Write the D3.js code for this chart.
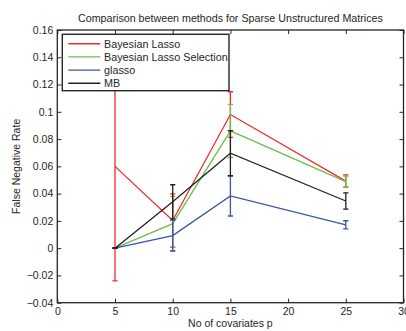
<!DOCTYPE html>
<html>
<head>
<meta charset="utf-8">
<script src="https://cdn.jsdelivr.net/npm/d3@7"></script>
<style>
  html, body { margin: 0; padding: 0; background: #fff; }
  svg { display: block; font-family: "Liberation Sans", Arial, sans-serif; }
</style>
</head>
<body>
<svg id="chart" width="406" height="331"></svg>
<script>
// Number of covariates p (x positions)
const pValues = [5, 10, 15, 25];

// Mean false negative rate and error-bar half-widths per method
const bayesLasso       = [0.060, 0.0203, 0.098, 0.0492];
const bayesLassoErr    = [0.084, 0.0195, 0.0167, 0.0045];
const bayesLassoSel    = [0, 0.018, 0.086, 0.0488];
const bayesLassoSelErr = [0, 0.020, 0.0195, 0.004];
const glasso           = [0, 0.0092, 0.0383, 0.0171];
const glassoErr        = [0, 0.0113, 0.0147, 0.003];
const mb               = [0, 0.034, 0.0696, 0.0346];
const mbErr            = [0, 0.0125, 0.0165, 0.006];

const seriesNames = ["Bayesian Lasso", "Bayesian Lasso Selection", "glasso", "MB"];
const seriesColors = ["#ee2a2f", "#6cbf4a", "#3b55a5", "#231f20"];

const xTicks = [0, 5, 10, 15, 20, 25, 30];
const yTicks = [-0.04, -0.02, 0, 0.02, 0.04, 0.06, 0.08, 0.1, 0.12, 0.14, 0.16];

const titleText = "Comparison between methods for Sparse Unstructured Matrices";
const xLabel = "No of covariates p";
const yLabel = "False Negative Rate";

const series = [
  { name: seriesNames[0], color: seriesColors[0], values: bayesLasso, err: bayesLassoErr },
  { name: seriesNames[1], color: seriesColors[1], values: bayesLassoSel, err: bayesLassoSelErr },
  { name: seriesNames[2], color: seriesColors[2], values: glasso, err: glassoErr },
  { name: seriesNames[3], color: seriesColors[3], values: mb, err: mbErr }
];

const svg = d3.select("#chart");
const plot = { left: 57.3, right: 403.5, top: 30, bottom: 302.7 };

const x = d3.scaleLinear().domain([0, 30]).range([plot.left, plot.right]);
const y = d3.scaleLinear().domain([-0.04, 0.16]).range([plot.bottom, plot.top]);

const textColor = "#262626";
const axisColor = "#262626";

const fmtY = d => {
  if (Math.abs(d) < 1e-12) return "0";
  const s = String(+Math.abs(d).toFixed(2));
  return (d < 0 ? "\u2212" : "") + s;
};

// Clip region for data marks
svg.append("defs").append("clipPath").attr("id", "plotClip")
  .append("rect")
  .attr("x", plot.left).attr("y", plot.top)
  .attr("width", plot.right - plot.left).attr("height", plot.bottom - plot.top);

// Axes: bottom/left with labels, top/right ticks only (ticks point inward)
const tickLen = 4;
const axisBottom = d3.axisBottom(x).tickValues(xTicks).tickSize(-tickLen).tickPadding(5).tickFormat(d3.format("d"));
const axisTop = d3.axisTop(x).tickValues(xTicks).tickSize(-tickLen).tickFormat("");
const axisLeft = d3.axisLeft(y).tickValues(yTicks).tickSize(-tickLen).tickPadding(4).tickFormat(fmtY);
const axisRight = d3.axisRight(y).tickValues(yTicks).tickSize(-tickLen).tickFormat("");

function styleAxis(g) {
  g.select(".domain").remove();
  g.selectAll(".tick line").attr("stroke", axisColor).attr("stroke-width", 1);
  g.selectAll(".tick text").attr("fill", textColor).style("font-size", "10.5px")
    .style("font-family", "'Liberation Sans', Arial, sans-serif");
}

svg.append("g").attr("transform", `translate(0,${plot.bottom})`).call(axisBottom).call(styleAxis);
svg.append("g").attr("transform", `translate(0,${plot.top})`).call(axisTop).call(styleAxis);
svg.append("g").attr("transform", `translate(${plot.left},0)`).call(axisLeft).call(styleAxis);
svg.append("g").attr("transform", `translate(${plot.right},0)`).call(axisRight).call(styleAxis);

// Data series with error bars
const marks = svg.append("g").attr("clip-path", "url(#plotClip)");
const line = d3.line().x(d => x(d.p)).y(d => y(d.v));
const capHalf = 2.6;

series.forEach(s => {
  const pts = pValues.map((p, i) => ({ p, v: s.values[i], e: s.err[i] }));
  const g = marks.append("g");
  g.append("path")
    .datum(pts)
    .attr("d", line)
    .attr("fill", "none")
    .attr("stroke", s.color)
    .attr("stroke-width", 1.3);
  pts.forEach(d => {
    const x0 = x(d.p), yLo = y(d.v - d.e), yHi = y(d.v + d.e);
    g.append("line").attr("x1", x0).attr("x2", x0).attr("y1", yLo).attr("y2", yHi)
      .attr("stroke", s.color).attr("stroke-width", 1.3);
    [yLo, yHi].forEach(yy => {
      g.append("line").attr("x1", x0 - capHalf).attr("x2", x0 + capHalf)
        .attr("y1", yy).attr("y2", yy)
        .attr("stroke", s.color).attr("stroke-width", 1.3);
    });
  });
});

// Plot frame
svg.append("rect")
  .attr("x", plot.left).attr("y", plot.top)
  .attr("width", plot.right - plot.left).attr("height", plot.bottom - plot.top)
  .attr("fill", "none").attr("stroke", axisColor).attr("stroke-width", 1.3);

// Title and axis labels
svg.append("text")
  .attr("x", x(15)).attr("y", 22)
  .attr("text-anchor", "middle")
  .attr("fill", textColor)
  .style("font-size", "10.7px")
  .text(titleText);

svg.append("text")
  .attr("x", x(15)).attr("y", 326.5)
  .attr("text-anchor", "middle")
  .attr("fill", textColor)
  .style("font-size", "10.5px")
  .text(xLabel);

svg.append("text")
  .attr("transform", `translate(20,${(plot.top + plot.bottom) / 2}) rotate(-90)`)
  .attr("text-anchor", "middle")
  .attr("fill", textColor)
  .style("font-size", "10.5px")
  .text(yLabel);

// Legend
const legend = { x: 62.3, y: 34.3, w: 166.7, h: 56.4 };
const lg = svg.append("g");
lg.append("rect")
  .attr("x", legend.x).attr("y", legend.y)
  .attr("width", legend.w).attr("height", legend.h)
  .attr("fill", "#fff").attr("stroke", axisColor).attr("stroke-width", 1.4);

const rowY = d3.scalePoint().domain(seriesNames).range([43.7, 83.3]);
series.forEach(s => {
  const yy = rowY(s.name);
  lg.append("line")
    .attr("x1", 68.3).attr("x2", 100.3)
    .attr("y1", yy).attr("y2", yy)
    .attr("stroke", s.color).attr("stroke-width", 1.4);
  lg.append("text")
    .attr("x", 104).attr("y", yy + 3.8)
    .attr("fill", textColor)
    .style("font-size", "10.8px")
    .text(s.name);
});
</script>
</body>
</html>
